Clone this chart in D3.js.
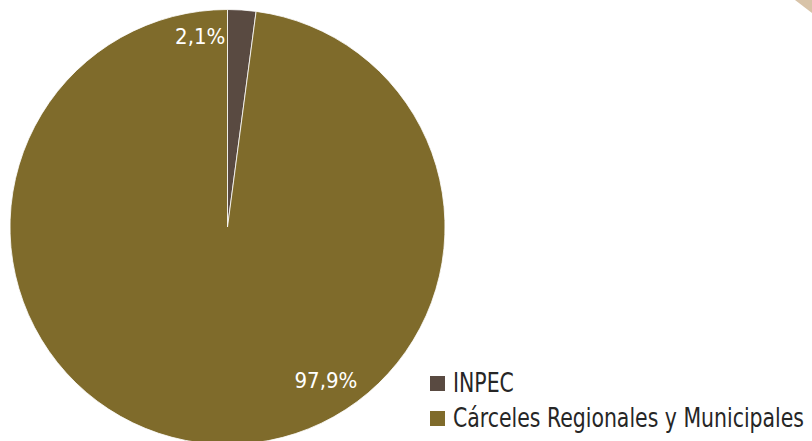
<!DOCTYPE html>
<html>
<head>
<meta charset="utf-8">
<script src="https://cdn.jsdelivr.net/npm/d3@7"></script>
<style>
  html, body { margin: 0; padding: 0; background: #ffffff; }
  svg { display: block; }
  text { font-family: "DejaVu Sans Condensed", "DejaVu Sans", sans-serif; }
</style>
</head>
<body>
<svg id="chart" width="812" height="441"></svg>
<script>
// Share of inmates by type of facility
const categories = ["INPEC", "Cárceles Regionales y Municipales"];
const shares = [2.1, 97.9];
const valueLabels = ["2,1%", "97,9%"];
const colors = ["#594a41", "#7f6b2b"];

const W = 812, H = 441;
const cx = 227.5, cy = 227, R = 217.5;

const svg = d3.select("#chart");

// decorative corner tab
svg.append("path")
  .attr("d", d3.line()([[795, 0], [812, 0], [812, 13]]) + "Z")
  .attr("fill", "#d8c3a8");

const pie = d3.pie().sort(null).value(d => d.v);
const arcs = pie(categories.map((c, i) => ({ c, v: shares[i], label: valueLabels[i] })));
const arc = d3.arc().innerRadius(0).outerRadius(R);

const color = d3.scaleOrdinal().domain(categories).range(colors);

const g = svg.append("g").attr("transform", `translate(${cx},${cy})`);

g.selectAll("path.slice")
  .data(arcs)
  .join("path")
  .attr("class", "slice")
  .attr("d", arc)
  .attr("fill", d => color(d.data.c))
  .attr("stroke", "#ffffff")
  .attr("stroke-width", 0.8);

// label placement: angle (radians, clockwise from top) and distance from center
const labelPos = [
  { a: -0.142, r: 193 },
  { a: 2.57, r: 182 }
];

g.selectAll("text.val")
  .data(arcs)
  .join("text")
  .attr("class", "val")
  .attr("x", (d, i) => labelPos[i].r * Math.sin(labelPos[i].a))
  .attr("y", (d, i) => -labelPos[i].r * Math.cos(labelPos[i].a))
  .attr("dy", "0.35em")
  .attr("text-anchor", "middle")
  .attr("fill", "#ffffff")
  .attr("font-size", 22)
  .text(d => d.data.label);

// legend
const legend = svg.append("g").attr("transform", "translate(430,376)");
const items = legend.selectAll("g.item")
  .data(categories)
  .join("g")
  .attr("class", "item")
  .attr("transform", (d, i) => `translate(0,${i * 35})`);

items.append("rect")
  .attr("x", 0).attr("y", 0)
  .attr("width", 15).attr("height", 15)
  .attr("fill", d => color(d));

// narrow face: condense the glyphs horizontally
const squeeze = 0.875;
items.append("text")
  .attr("transform", `translate(23,16) scale(${squeeze},1)`)
  .attr("fill", "#262626")
  .attr("font-size", 26)
  .text(d => d);
</script>
</body>
</html>
